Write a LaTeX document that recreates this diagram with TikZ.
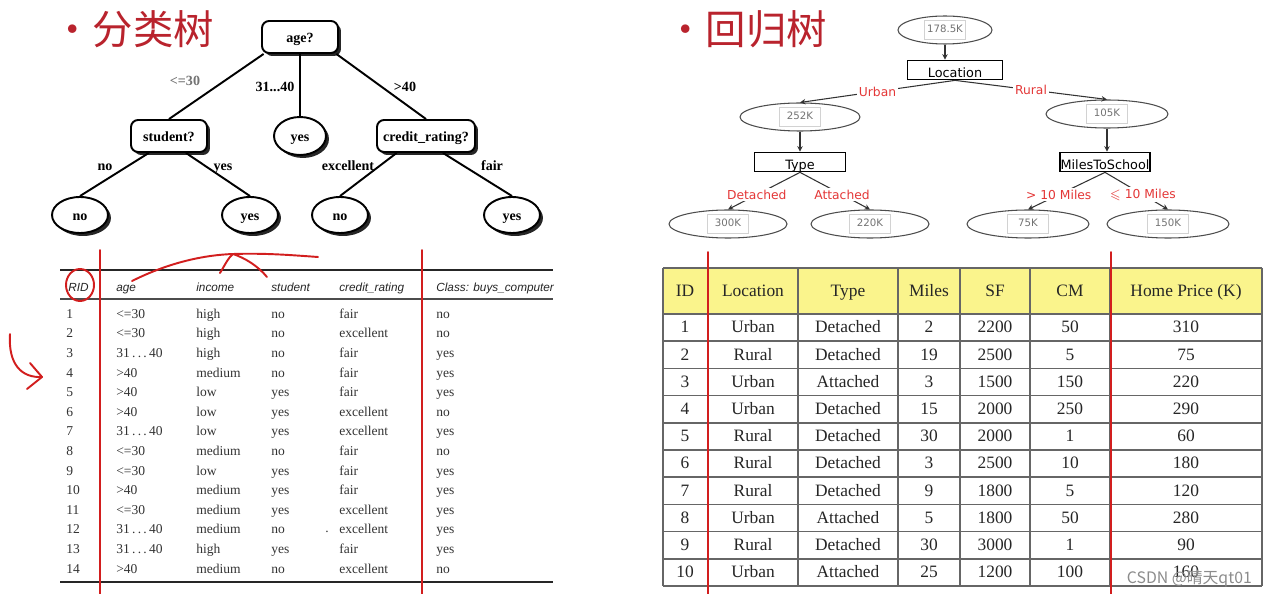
\documentclass[tikz,border=0pt]{standalone}
\usepackage{amsmath,amssymb}
\usepackage{xcolor}
\usepackage{fontspec}
\setmainfont{Liberation Serif}
\setsansfont{Liberation Sans}
\newfontfamily\cjkfont{Noto Sans CJK SC}
\newfontfamily\dvfont{DejaVu Sans}
\usepackage{tikz}
\usetikzlibrary{positioning,arrows.meta,shapes,shadows}

\definecolor{ttlred}{RGB}{185,35,45}
\definecolor{lblred}{RGB}{228,55,55}
\definecolor{penred}{RGB}{210,30,30}
\definecolor{hdrfill}{RGB}{250,244,140}
\newcommand{\valbox}[1]{{\setlength{\fboxrule}{0.4pt}\setlength{\fboxsep}{1.2pt}%
  \fcolorbox{gray!35}{white}{\makebox[0.72cm]{\rule[-2.5pt]{0pt}{8pt}#1}}}}

\begin{document}
\begin{tikzpicture}[x=0.02cm, y=-0.02cm,
    ttl/.style={font=\cjkfont\fontsize{23}{23}\selectfont, text=ttlred, anchor=west, inner sep=0},
    dec/.style={draw, line width=1.1pt, rounded corners=4pt, fill=white, minimum width=1.52cm,
                minimum height=0.64cm, inner sep=0, text height=1.6ex, text depth=0.3ex,
                font=\bfseries\fontsize{8}{8}\selectfont,
                drop shadow={shadow xshift=1.7pt, shadow yshift=-1.7pt, fill=black, opacity=0.85}},
    leaf/.style={dec, ellipse, sharp corners, minimum width=1.12cm, minimum height=0.72cm},
    brl/.style={font=\bfseries\fontsize{8}{8}\selectfont, inner sep=1pt, text height=1.6ex, text depth=0.3ex},
    br/.style={line width=1.1pt},
    val/.style={ellipse, draw=black!70, line width=0.6pt, minimum width=2.4cm, minimum height=0.56cm,
                inner sep=0, font=\dvfont\fontsize{5.8}{6}\selectfont, text=black!55},
    att/.style={draw, line width=1pt, fill=white, minimum height=0.38cm, inner sep=0,
                text height=1.75ex, text depth=0pt, font=\dvfont\fontsize{7.3}{7.3}\selectfont},
    rlbl/.style={font=\dvfont\fontsize{7}{7}\selectfont, text=lblred, fill=white, inner sep=1pt},
    arr/.style={-{Stealth[length=1.1mm, width=1.1mm]}, line width=0.6pt, black!80},
    lcell/.style={anchor=west, inner sep=0, text height=1.6ex, text depth=0.3ex,
                  font=\fontsize{7.7}{8}\selectfont, text=black!80},
    lhd/.style={anchor=west, inner sep=0, text height=1.6ex, text depth=0.3ex,
                font=\sffamily\itshape\fontsize{6.7}{7}\selectfont, text=black!85},
    rcell/.style={inner sep=0, text height=1.6ex, text depth=0.3ex,
                  font=\fontsize{9.9}{10}\selectfont, text=black!85},
    tline/.style={draw=black!60, line width=0.8pt},
    pen/.style={draw=penred, line width=1.1pt, line cap=round, line join=round}
  ]
  \useasboundingbox (0,0) rectangle (1268,594);
  \fill[white] (0,0) rectangle (1268,594);

  % ---------------- Classification tree ----------------
  \node[ttl] (t1) at (52,29) {•分类树};
  \node[dec] (age) at (300,37) {age?};
  \node[dec] (stu) at (169,136) {student?};
  \node[leaf, minimum width=1.04cm, minimum height=0.76cm] (mid) at (300,136) {yes};
  \node[dec, minimum width=1.96cm] (cre) at (426,136) {credit\_rating?};
  \node[leaf] (lno1)  at (80,215)  {no};
  \node[leaf] (lyes1) at (250,215) {yes};
  \node[leaf] (lno2)  at (340,215) {no};
  \node[leaf] (lyes2) at (512,215) {yes};

  \draw[br] (age.-155) -- (stu.north);
  \draw[br] (age.south) -- (mid.north);
  \draw[br] (age.-25) -- (cre.north);
  \draw[br] (stu.-140) -- (lno1.north);
  \draw[br] (stu.-45) -- (lyes1.north);
  \draw[br] (cre.-150) -- (lno2.north);
  \draw[br] (cre.-45) -- (lyes2.north);

  \node[brl, text=black!55] (e30) at (185,80) {<=30};
  \node[brl] (e3140) at (275,86) {31...40};
  \node[brl] (e40) at (405,86) {>40};
  \node[brl] (eno) at (105,165) {no};
  \node[brl] (eyes) at (223,165) {yes};
  \node[brl] (eexc) at (348,165) {excellent};
  \node[brl] (efair) at (492,165) {fair};

  % ---------------- Training data ----------------
  \draw[black!85, line width=1.6pt] (60,270) -- (553,270);
  \draw[black!70, line width=0.7pt] (60,299) -- (553,299);
  \draw[black!85, line width=1.6pt] (60,582) -- (553,582);
  \foreach \hd/\xx [count=\c] in {RID/68, age/116, income/196, student/271,
      credit\_rating/339, {Class: buys\_computer}/436}
    \node[lhd] (lh\c) at (\xx,286) {\hd};
  \foreach \vAge/\vInc/\vStu/\vCre/\vCls [count=\r] in {
      <=30/high/no/fair/no,
      <=30/high/no/excellent/no,
      31\,.\,.\,.\,40/high/no/fair/yes,
      >40/medium/no/fair/yes,
      >40/low/yes/fair/yes,
      >40/low/yes/excellent/no,
      31\,.\,.\,.\,40/low/yes/excellent/yes,
      <=30/medium/no/fair/no,
      <=30/low/yes/fair/yes,
      >40/medium/yes/fair/yes,
      <=30/medium/yes/excellent/yes,
      31\,.\,.\,.\,40/medium/no/excellent/yes,
      31\,.\,.\,.\,40/high/yes/fair/yes,
      >40/medium/no/excellent/no}
  {
    \pgfmathsetmacro{\yy}{313+19.6*(\r-1)}
    \node[lcell] (rid\r) at (66,\yy)  {\r};
    \node[lcell] (ag\r)  at (116,\yy) {\vAge};
    \node[lcell] (in\r)  at (196,\yy) {\vInc};
    \node[lcell] (st\r)  at (271,\yy) {\vStu};
    \node[lcell] (cr\r)  at (339,\yy) {\vCre};
    \node[lcell] (cl\r)  at (436,\yy) {\vCls};
  }
  \node[lcell] (spk) at (325,527) {.};

  % ---------------- Regression tree ----------------
  \node[ttl] (t2) at (665,29) {•回归树};
  \node[val, minimum width=1.88cm] (r0) at (945,30) {\valbox{178.5K}};
  \node[att, minimum width=1.9cm] (loc) at (955,70) {Location};
  \node[val] (r1) at (800,117) {\valbox{252K}};
  \node[att, minimum width=1.82cm] (typ) at (800,162) {Type};
  \node[val, minimum width=2.44cm] (r2) at (1107,114) {\valbox{105K}};
  \node[att, minimum width=1.8cm] (mts) at (1105,162) {MilesToSchool};
  \node[val, minimum width=2.36cm] (r11) at (728,224) {\valbox{300K}};
  \node[val, minimum width=2.36cm] (r12) at (870,224) {\valbox{220K}};
  \node[val, minimum width=2.44cm] (r21) at (1028,224) {\valbox{75K}};
  \node[val, minimum width=2.44cm] (r22) at (1168,224) {\valbox{150K}};

  \draw[arr] (r0.south) -- (r0.south |- loc.north);
  \draw[arr] (loc.south) -- node[rlbl] (lurb) {Urban} (r1.north);
  \draw[arr] (loc.south) -- node[rlbl] (lrur) {Rural} (r2.north);
  \draw[arr] (r1.south) -- (typ.north);
  \draw[arr] (r2.south) -- (r2.south |- mts.north);
  \draw[arr] (typ.south) -- node[rlbl, pos=0.6] (ldet) {Detached} (r11.north);
  \draw[arr] (typ.south) -- node[rlbl, pos=0.6] (latt) {Attached} (r12.north);
  \draw[arr] (mts.south) -- node[rlbl, pos=0.6] (lgt) {> 10 Miles} (r21.north);
  \draw[arr] (mts.south) -- node[rlbl, pos=0.6] (lle) {$\leqslant$ 10 Miles} (r22.north);

  % ---------------- Home price table ----------------
  \fill[hdrfill] (663,268) rectangle (1262,314);
  \foreach \yy in {268,314,341.2,368.4,395.6,422.8,450,477.2,504.4,531.6,558.8,586}
    \draw[tline] (663,\yy) -- (1262,\yy);
  \foreach \xx in {663,708,798,898,960,1030,1110,1262}
    \draw[tline] (\xx,268) -- (\xx,586);
  \foreach \hd/\xx [count=\c] in {ID/685, Location/753, Type/848, Miles/929,
      SF/995, CM/1070, {Home Price (K)}/1186}
    \node[rcell] (rh\c) at (\xx,291) {\hd};
  \foreach \vLoc/\vTyp/\vMil/\vSqf/\vCm/\vPrc [count=\r] in {
      Urban/Detached/2/2200/50/310,
      Rural/Detached/19/2500/5/75,
      Urban/Attached/3/1500/150/220,
      Urban/Detached/15/2000/250/290,
      Rural/Detached/30/2000/1/60,
      Rural/Detached/3/2500/10/180,
      Rural/Detached/9/1800/5/120,
      Urban/Attached/5/1800/50/280,
      Rural/Detached/30/3000/1/90,
      Urban/Attached/25/1200/100/160}
  {
    \pgfmathsetmacro{\yy}{314+27.2*(\r-0.5)}
    \node[rcell] (id\r) at (685,\yy)  {\r};
    \node[rcell] (lo\r) at (753,\yy)  {\vLoc};
    \node[rcell] (ty\r) at (848,\yy)  {\vTyp};
    \node[rcell] (mi\r) at (929,\yy)  {\vMil};
    \node[rcell] (sq\r) at (995,\yy)  {\vSqf};
    \node[rcell] (cm\r) at (1070,\yy) {\vCm};
    \node[rcell] (pr\r) at (1186,\yy) {\vPrc};
  }

  % ---------------- pen marks ----------------
  \draw[pen] (100,250) -- (100,594);
  \draw[pen] (422,250) -- (422,594);
  \draw[pen] (708,252) -- (708,594);
  \draw[pen] (1111,252) -- (1111,594);
  \draw[pen] (80,285) ellipse [x radius=14, y radius=16];
  \draw[pen] (10,334) .. controls (8,365) and (22,378) .. (42,377);
  \draw[pen] (30,363) -- (42,377) -- (27,389);
  \draw[pen] (132,281) .. controls (170,262) and (205,255) .. (233,254)
                       .. controls (265,253) and (290,255) .. (318,257);
  \draw[pen] (220,273) .. controls (225,265) and (228,258) .. (233,254)
                       .. controls (245,258) and (258,266) .. (267,277);

  \node[font=\cjkfont\fontsize{9}{9}\selectfont, text=black!45, anchor=east] (wm) at (1258,579)
    {CSDN @晴天qt01};
\end{tikzpicture}
\end{document}
